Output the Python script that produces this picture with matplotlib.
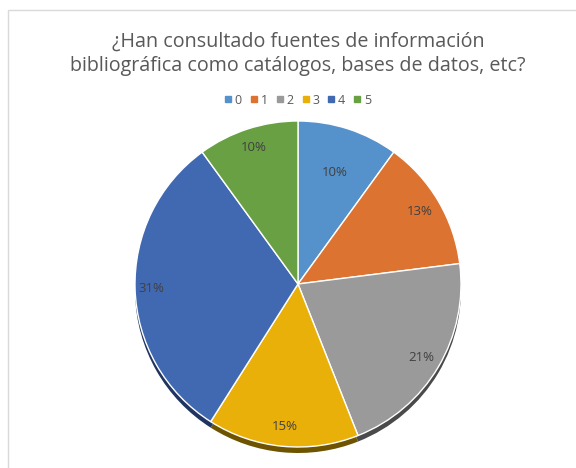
import matplotlib.pyplot as plt
from matplotlib.patches import Rectangle
from matplotlib.lines import Line2D
import numpy as np

categories = ['0', '1', '2', '3', '4', '5']
values = [10, 13, 21, 15, 31, 10]
colors = ['#5591CA', '#DC7331', '#9A9A9A', '#EAB00A', '#4169B2', '#68A043']
shadow_colors = ['#2B4A68', '#6E3A18', '#4A4A4A', '#6E5400', '#1F3460', '#34521F']
label_dist = [0.72, 0.87, 0.88, 0.88, 0.90, 0.88]

title = '¿Han consultado fuentes de información\nbibliográfica como catálogos, bases de datos, etc?'

W, H = 576, 468
fig = plt.figure(figsize=(W / 100, H / 100), dpi=100)
fig.patch.set_facecolor('white')

# chart frame
fig.patches.append(Rectangle((8 / W, -0.1), 1.2, 1 - 10 / H + 0.1,
                             transform=fig.transFigure, fill=False,
                             edgecolor='#D9D9D9', linewidth=1.0))

fig.text(298 / W, 1 - 54 / H, title, ha='center', va='center',
         fontsize=14.2, color='#595959', family=['Open Sans', 'DejaVu Sans'],
         linespacing=1.25)

# pie axes
cx, cy, r = 298, 284, 163
half = 185
ax = fig.add_axes([(cx - half) / W, (H - cy - half) / H, 2 * half / W, 2 * half / H])

# 3d-ish shadow below
ax.pie(values, colors=shadow_colors, startangle=90, counterclock=False,
       center=(0, -6 / r), radius=1.0,
       wedgeprops=dict(linewidth=0))

wedges, _ = ax.pie(values, colors=colors, startangle=90, counterclock=False,
                   radius=1.0, wedgeprops=dict(edgecolor='white', linewidth=1.0))

lim = half / r
ax.set_xlim(-lim, lim)
ax.set_ylim(-lim, lim)
ax.set_aspect('equal')
ax.axis('off')

total = sum(values)
for w, v, d in zip(wedges, values, label_dist):
    ang = np.deg2rad((w.theta1 + w.theta2) / 2)
    ax.text(d * np.cos(ang), d * np.sin(ang), f'{round(100 * v / total)}%',
            ha='center', va='center', fontsize=9.5, color='#404040',
            family=['Open Sans', 'DejaVu Sans'])

handles = [Line2D([], [], marker='s', linestyle='', markersize=4.5,
                  markerfacecolor=c, markeredgecolor=c) for c in colors]
fig.legend(handles, categories, loc='center', bbox_to_anchor=(298 / W, 1 - 100 / H),
           ncol=6, frameon=False, handlelength=0.5, handletextpad=0.3,
           columnspacing=0.7, labelcolor='#595959',
           prop={'family': ['Open Sans', 'DejaVu Sans'], 'size': 9})

fig.savefig('out.png', dpi=100, facecolor='white')
